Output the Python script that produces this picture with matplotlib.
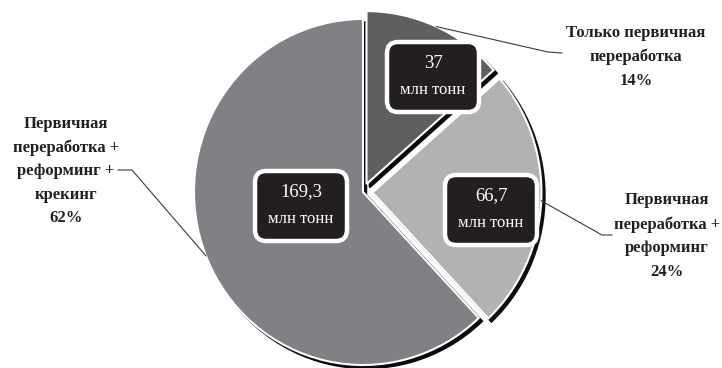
import matplotlib.pyplot as plt
import numpy as np
from matplotlib.patches import FancyBboxPatch

plt.rcParams['font.family'] = ['Liberation Serif', 'DejaVu Serif']

# объёмы переработки по схемам, млн тонн
categories = ['Только первичная\nпереработка',
              'Первичная\nпереработка +\nреформинг',
              'Первичная\nпереработка +\nреформинг +\nкрекинг']
volumes = [37, 66.7, 169.3]
slice_colors = ['#5f5f61', '#b1b2b4', '#808184']
explode = [0.05, 0.056, 0.0]

W, H = 722, 368
CX, CY = 363, 192      # центр круга, px
SX, SY = 169, 173      # радиус по x и y, px


def px(x, y):
    return (x - CX) / SX, (CY - y) / SY


fig = plt.figure(figsize=(W / 100, H / 100), dpi=100)
ax = fig.add_axes([0, 0, 1, 1])

sh = 3.2 * 72 / 100  # смещение тени ~3 px
wedges, _ = ax.pie(volumes, colors=slice_colors, startangle=90,
                   counterclock=False, explode=explode, radius=1,
                   wedgeprops=dict(edgecolor='white', linewidth=1.5),
                   shadow=dict(ox=sh / SX, oy=-sh / SY, shade=0.92, alpha=1))
ax.set_aspect('auto')
ax.set_xlim(-CX / SX, (W - CX) / SX)
ax.set_ylim(-(H - CY) / SY, CY / SY)
ax.axis('off')

# подписи-плашки внутри секторов
box_centers = [(433, 77), (491, 210), (301, 206)]
bw, bh = 92 / SX, 70 / SY
for v, (bx, by) in zip(volumes, box_centers):
    x, y = px(bx, by)
    box = FancyBboxPatch((x - bw / 2, y - bh / 2), bw, bh,
                         boxstyle='round,pad=0,rounding_size=0.065',
                         facecolor='#231f20', edgecolor='white',
                         linewidth=3.2, zorder=5)
    ax.add_patch(box)
    ax.text(x, y + 14 / SY, f'{v:g}'.replace('.', ','), color='white',
            fontsize=13.5, ha='center', va='center', zorder=6)
    ax.text(x, y - 13 / SY, 'млн тонн', color='white',
            fontsize=12, ha='center', va='center', zorder=6)

# внешние подписи с выносками
total = sum(volumes)
label_pos = [(636, 57), (667, 236), (66, 171)]
leader_pts = [[(548, 52), (562, 53)],
              [(602, 235), (612, 235)],
              [(132, 170), (118, 170)]]
for w, name, v, (lx, ly), pts in zip(wedges, categories, volumes,
                                      label_pos, leader_pts):
    ang = np.deg2rad((w.theta1 + w.theta2) / 2)
    ex = w.center[0] + np.cos(ang)
    ey = w.center[1] + np.sin(ang)
    xs = [ex] + [px(*p)[0] for p in pts]
    ys = [ey] + [px(*p)[1] for p in pts]
    ax.plot(xs, ys, color='#3a3a3a', linewidth=0.8, zorder=4)
    pct = round(v / total * 100)
    x, y = px(lx, ly)
    ax.text(x, y, f'{name}\n{pct}%', fontsize=12, fontweight='bold',
            color='#231f20', ha='center', va='center', multialignment='center',
            linespacing=1.62)

fig.savefig('out.png', dpi=100, facecolor='white')
